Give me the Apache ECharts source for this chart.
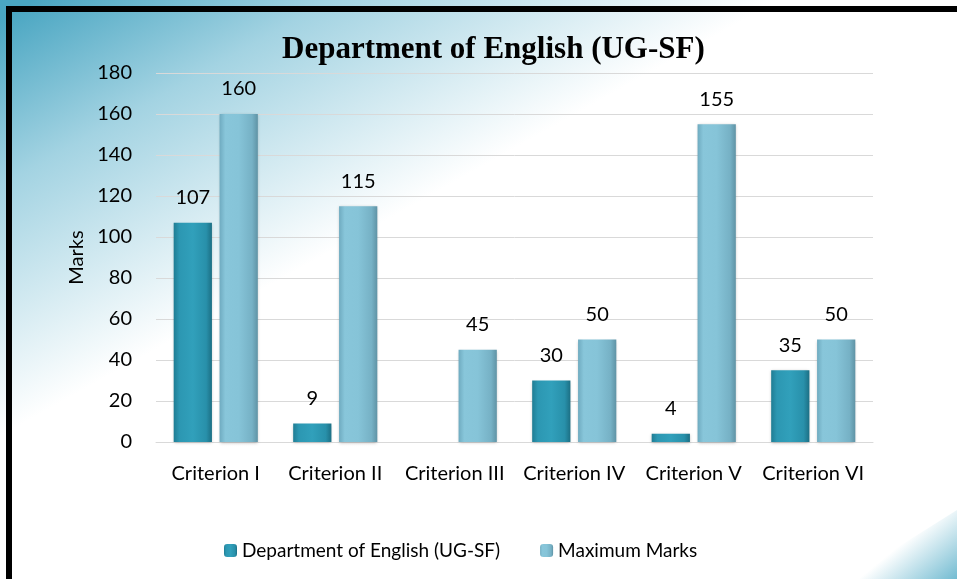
<!DOCTYPE html>
<html>
<head>
<meta charset="utf-8">
<style>
  html, body { margin: 0; padding: 0; background: #fff; overflow: hidden; }
  #main { width: 957px; height: 579px; }
</style>
<script src="https://cdn.jsdelivr.net/npm/echarts@6/dist/echarts.min.js"></script>
</head>
<body>
<div id="main"></div>
<script>
var categories = ['Criterion I', 'Criterion II', 'Criterion III', 'Criterion IV', 'Criterion V', 'Criterion VI'];
var deptMarks = [107, 9, '-', 30, 4, 35];
var maxMarks = [160, 115, 45, 50, 155, 50];
var yTicks = { min: 0, max: 180, interval: 20 };

(function () {
    var myChart = echarts.init(document.getElementById('main'));
    var txtFont = 'Lato, "Open Sans", sans-serif';

    // bevelled-looking bars, darker at the edges
    var darkFill = new echarts.graphic.LinearGradient(0, 0, 1, 0, [
        { offset: 0, color: '#1f7d94' },
        { offset: 0.15, color: '#2c97b2' },
        { offset: 0.5, color: '#31a0bb' },
        { offset: 0.85, color: '#2890aa' },
        { offset: 1, color: '#1c6f84' }
    ]);
    var lightFill = new echarts.graphic.LinearGradient(0, 0, 1, 0, [
        { offset: 0, color: '#6fabc0' },
        { offset: 0.15, color: '#88c6da' },
        { offset: 0.5, color: '#86c4d8' },
        { offset: 0.85, color: '#76b1c5' },
        { offset: 1, color: '#5f93a5' }
    ]);

    var option = {
        backgroundColor: '#ffffff',
        animation: false,
        title: {
            text: 'Department of English (UG-SF)',
            left: 277,
            top: 29,
            textStyle: {
                fontFamily: '"Liberation Serif", "DejaVu Serif", serif',
                fontWeight: 'bold',
                fontSize: 31,
                color: '#000'
            }
        },
        graphic: [
            {
                type: 'rect',
                z: -10,
                silent: true,
                shape: { x: 0, y: 0, width: 957, height: 579 },
                style: {
                    fill: new echarts.graphic.LinearGradient(12, 12, 190, 330, [
                        { offset: 0, color: '#4aa6c2' },
                        { offset: 0.4, color: '#a3d3e2' },
                        { offset: 1, color: '#ffffff' }
                    ], true)
                }
            },
            {
                type: 'polygon',
                z: -9,
                silent: true,
                shape: { points: [[847, 579], [957, 510], [957, 579]] },
                style: {
                    fill: new echarts.graphic.LinearGradient(900, 545, 945, 600, [
                        { offset: 0, color: '#ffffff' },
                        { offset: 1, color: '#5fb2cb' }
                    ], true)
                }
            },
            {
                type: 'rect',
                z: 100,
                silent: true,
                shape: { x: 9, y: 9, width: 1000, height: 1000 },
                style: { fill: 'none', stroke: '#000', lineWidth: 6 }
            }
        ],
        legend: {
            data: ['Department of English (UG-SF)', 'Maximum Marks'],
            left: 219,
            top: 536,
            itemWidth: 13,
            itemHeight: 13,
            itemGap: 40,
            textStyle: {
                fontFamily: txtFont,
                fontSize: 19,
                color: '#000'
            }
        },
        grid: {
            left: 156,
            right: 84,
            top: 73,
            bottom: 137
        },
        xAxis: {
            type: 'category',
            data: categories,
            axisTick: { show: false },
            axisLine: { lineStyle: { color: '#d9d9d9', width: 1 } },
            axisLabel: {
                interval: 0,
                margin: 22,
                fontFamily: txtFont,
                fontSize: 20,
                color: '#000'
            }
        },
        yAxis: {
            type: 'value',
            min: yTicks.min,
            max: yTicks.max,
            interval: yTicks.interval,
            name: 'Marks',
            nameLocation: 'middle',
            nameGap: 66,
            nameTextStyle: {
                fontFamily: txtFont,
                fontSize: 20,
                color: '#000'
            },
            axisLine: { show: false },
            axisTick: { show: false },
            axisLabel: {
                margin: 24,
                fontFamily: txtFont,
                fontSize: 20,
                color: '#000'
            },
            splitLine: {
                lineStyle: { color: '#d9d9d9', width: 1 }
            }
        },
        series: [
            {
                name: 'Department of English (UG-SF)',
                type: 'bar',
                data: deptMarks,
                barWidth: '32%',
                barGap: '20%',
                itemStyle: {
                    color: darkFill,
                    shadowColor: 'rgba(0,0,0,0.25)',
                    shadowBlur: 3,
                    shadowOffsetY: 1
                },
                label: {
                    show: true,
                    position: 'top',
                    distance: 15,
                    fontFamily: txtFont,
                    fontSize: 20,
                    color: '#000'
                }
            },
            {
                name: 'Maximum Marks',
                type: 'bar',
                data: maxMarks,
                barWidth: '32%',
                itemStyle: {
                    color: lightFill,
                    shadowColor: 'rgba(0,0,0,0.25)',
                    shadowBlur: 3,
                    shadowOffsetY: 1
                },
                label: {
                    show: true,
                    position: 'top',
                    distance: 15,
                    fontFamily: txtFont,
                    fontSize: 20,
                    color: '#000'
                }
            }
        ]
    };
    myChart.setOption(option);
    window.addEventListener('resize', function () {
        myChart.resize();
    });
})();
</script>
</body>
</html>
